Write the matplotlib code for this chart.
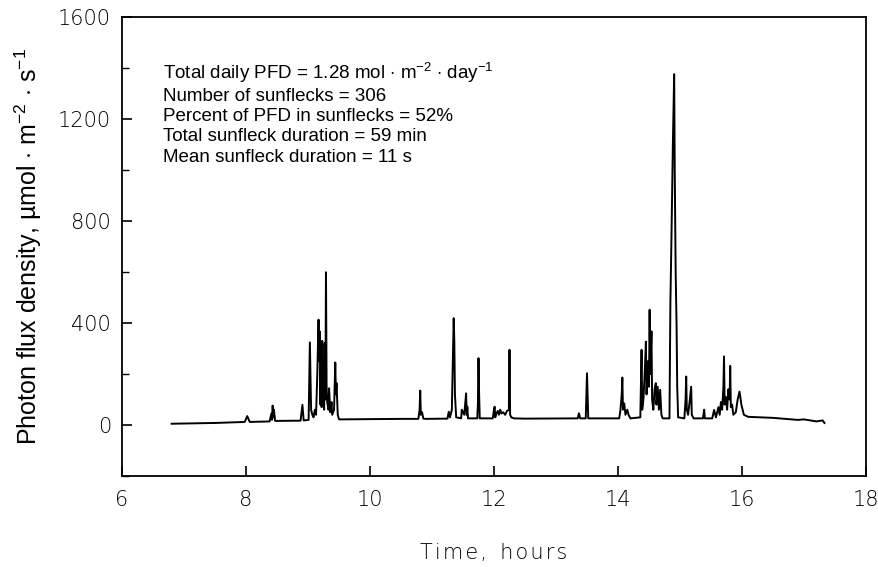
import matplotlib
matplotlib.use("Agg")
import matplotlib.pyplot as plt
from matplotlib.ticker import MultipleLocator

# Time (hours) and photon flux density (umol m-2 s-1) of the trace
time_h = [
    6.80, 7.50, 7.98, 8.02, 8.06, 8.38, 8.41, 8.42, 8.43, 8.44, 8.45, 8.47,
    8.88, 8.90, 8.91, 8.93,
    9.01, 9.03, 9.05, 9.07, 9.09, 9.11, 9.13, 9.15, 9.17, 9.18, 9.19, 9.20,
    9.21, 9.22, 9.23, 9.24, 9.25, 9.26, 9.27, 9.28, 9.29, 9.30, 9.31, 9.33,
    9.34, 9.36, 9.38, 9.39, 9.42, 9.44, 9.45, 9.46, 9.48, 9.50,
    10.50, 10.78, 10.80, 10.81, 10.82, 10.84, 10.86, 10.90,
    11.25, 11.27, 11.29, 11.32, 11.34, 11.35, 11.36, 11.37, 11.39,
    11.47, 11.48, 11.50, 11.52, 11.55, 11.56, 11.57, 11.58,
    11.73, 11.74, 11.75, 11.76, 11.77,
    11.98, 12.00, 12.01, 12.02, 12.04, 12.06, 12.08, 12.10, 12.12, 12.15,
    12.18, 12.21, 12.24, 12.25, 12.26, 12.28, 12.32,
    12.50, 13.35, 13.37, 13.39, 13.48, 13.50, 13.52,
    14.02, 14.04, 14.06, 14.07, 14.08, 14.10, 14.12, 14.15, 14.17, 14.20,
    14.36, 14.38, 14.39, 14.41, 14.43, 14.45, 14.46, 14.48, 14.50, 14.51,
    14.52, 14.54, 14.55, 14.57, 14.59, 14.61, 14.62, 14.64, 14.66, 14.68,
    14.70, 14.72,
    14.83, 14.845, 14.86, 14.885, 14.906, 14.915, 14.93, 14.945, 14.955, 14.97,
    15.07, 15.09, 15.10, 15.11, 15.13, 15.15, 15.18, 15.19, 15.22,
    15.37, 15.39, 15.40, 15.52, 15.55, 15.58, 15.60, 15.62, 15.64, 15.66,
    15.68, 15.70, 15.71, 15.72, 15.74, 15.76, 15.78, 15.80, 15.81, 15.82,
    15.84, 15.86, 15.90, 15.93, 15.96, 15.99, 16.03, 16.10, 16.50, 16.90,
    17.00, 17.20, 17.30, 17.33,
]
pfd = [
    5, 8, 12, 35, 12, 14, 45, 20, 76, 30, 60, 16,
    17, 60, 79, 18,
    20, 324, 60, 40, 30, 60, 40, 200, 413, 250, 367, 80,
    260, 70, 330, 120, 255, 60, 321, 100, 599, 150, 90, 60,
    144, 50, 90, 40, 60, 245, 120, 164, 40, 22,
    24, 24, 60, 135, 40, 50, 25, 24,
    25, 52, 30, 60, 300, 419, 327, 120, 30,
    26, 60, 50, 40, 124, 40, 72, 26,
    26, 80, 262, 120, 26,
    26, 60, 72, 30, 45, 55, 40, 60, 45, 50,
    40, 55, 60, 295, 40, 30, 26,
    25, 26, 46, 26, 26, 203, 26,
    26, 60, 120, 186, 60, 85, 40, 60, 40, 26,
    30, 295, 60, 100, 200, 327, 120, 250, 150, 452,
    200, 367, 100, 60, 140, 164, 80, 150, 60, 138,
    40, 26,
    26, 480, 700, 1100, 1376, 1000, 600, 385, 150, 30,
    26, 100, 190, 60, 40, 80, 150, 40, 26,
    26, 60, 26, 26, 59, 30, 50, 70, 40, 90,
    60, 150, 269, 80, 110, 60, 140, 100, 232, 70,
    80, 40, 50, 100, 131, 80, 40, 32, 28, 20,
    22, 14, 18, 8,
]

x_ticks = [6, 8, 10, 12, 14, 16, 18]
y_ticks = [0, 400, 800, 1200, 1600]

stats_lines = [
    r"Total daily PFD = 1.28 mol $\cdot$ m$^{-2}$ $\cdot$ day$^{-1}$",
    "Number of sunflecks = 306",
    "Percent of PFD in sunflecks = 52%",
    "Total sunfleck duration = 59 min",
    "Mean sunfleck duration = 11 s",
]

plt.rcParams["font.family"] = ["Liberation Sans", "DejaVu Sans"]
plt.rcParams["mathtext.fontset"] = "custom"
plt.rcParams["mathtext.rm"] = "Liberation Sans"
plt.rcParams["mathtext.it"] = "Liberation Sans:italic"

fig = plt.figure(figsize=(8.79, 5.67), dpi=100)
ax = fig.add_axes([122 / 879, 1 - 476 / 567, (866 - 122) / 879, (476 - 17) / 567])

ax.plot(time_h, pfd, color="black", lw=1.4)

ax.set_xlim(6, 18)
ax.set_ylim(-200, 1600)
ax.set_xticks(x_ticks)
ax.set_yticks(y_ticks)
ax.yaxis.set_minor_locator(MultipleLocator(200))
ax.tick_params(axis="both", which="both", direction="in", top=False, right=False)
ax.tick_params(axis="both", which="major", length=7, width=1.2, labelsize=15, pad=8)
ax.tick_params(axis="y", which="minor", length=5, width=1.0)
ax.tick_params(axis="x", which="major", pad=10)
for lab in ax.get_xticklabels() + ax.get_yticklabels():
    lab.set_family(["DejaVu Sans"])
    lab.set_fontweight("light")
for s in ax.spines.values():
    s.set_linewidth(1.3)

hs = "\u200a"
ax.set_xlabel(hs.join("Time,") + "  " + hs.join("hours"), fontsize=15,
              family=["DejaVu Sans"], fontweight="light", labelpad=24)
ax.set_ylabel("Photon flux density, \u00b5mol $\\cdot$ m$^{-2}$ $\\cdot$ s$^{-1}$",
              fontsize=18, labelpad=10)

ax.text(0.055, 0.905, "\n".join(stats_lines), transform=ax.transAxes,
        fontsize=13.5, va="top", ha="left", linespacing=1.25)

fig.savefig("out.png", dpi=100)
